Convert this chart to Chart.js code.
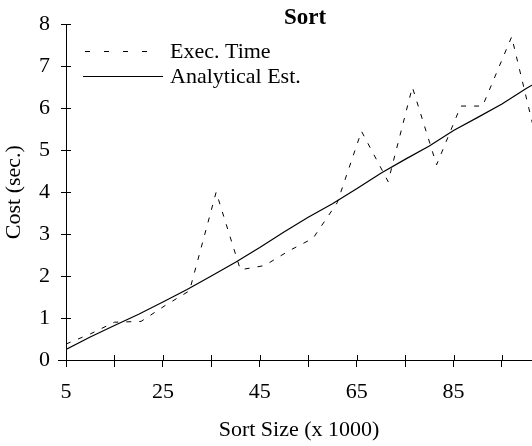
<!DOCTYPE html>
<html>
<head>
<meta charset="utf-8">
<script src="https://cdn.jsdelivr.net/npm/chart.js@4/dist/chart.umd.min.js"></script>
<style>
  html, body { margin: 0; padding: 0; background: #fff; }
</style>
</head>
<body>
<canvas id="myChart" width="532" height="446"></canvas>
<script>
// measured execution time (dashed)
const execSizes = [5, 10, 15, 20.5, 25.5, 30.5, 36, 41, 46, 51, 56, 61, 66, 71.5, 76.5, 81.5, 86.5, 91, 97, 102];
const execTimes = [0.38, 0.62, 0.9, 0.92, 1.3, 1.65, 4.0, 2.15, 2.25, 2.6, 2.9, 3.75, 5.45, 4.25, 6.5, 4.65, 6.05, 6.05, 7.7, 5.3];

// analytical estimate (solid)
const estSizes = [5, 10, 15, 20, 25, 30, 35, 40, 45, 50, 55, 60, 65, 70, 75, 80, 85, 90, 95, 100, 105];
const estTimes = [0.25, 0.55, 0.82, 1.09, 1.38, 1.68, 2.0, 2.33, 2.68, 3.05, 3.4, 3.72, 4.08, 4.45, 4.78, 5.1, 5.47, 5.78, 6.1, 6.47, 6.8];

const xTickValues = [5, 15, 25, 35, 45, 55, 65, 75, 85, 95];
const xTickLabels = ['5', '', '25', '', '45', '', '65', '', '85', ''];
const yTickValues = [0, 1, 2, 3, 4, 5, 6, 7, 8];

const seriesNames = ['Exec. Time', 'Analytical Est.'];
const chartTitle = 'Sort';

const serif = '"Liberation Serif", "Times New Roman", serif';
Chart.defaults.font.family = serif;
Chart.defaults.color = '#000';

// title, legend, inner half of the tick marks
const overlay = {
    id: 'overlay',
    afterDraw(chart) {
        const ctx = chart.ctx;
        const area = chart.chartArea;
        const xs = chart.scales.x;
        const ys = chart.scales.y;
        ctx.save();
        ctx.strokeStyle = '#000';
        ctx.lineWidth = 1;
        ctx.beginPath();
        xTickValues.forEach(v => {
            const px = Math.round(xs.getPixelForValue(v)) + 0.5;
            ctx.moveTo(px, area.bottom);
            ctx.lineTo(px, area.bottom - 5);
        });
        yTickValues.forEach(v => {
            const py = Math.round(ys.getPixelForValue(v)) + 0.5;
            ctx.moveTo(area.left, py);
            ctx.lineTo(area.left + 5, py);
        });
        // x axis runs a bit past the y axis
        ctx.moveTo(area.left - 8, Math.round(area.bottom) + 0.5);
        ctx.lineTo(area.left, Math.round(area.bottom) + 0.5);
        ctx.stroke();

        ctx.fillStyle = '#000';
        ctx.font = 'bold 23px ' + serif;
        ctx.textAlign = 'center';
        ctx.textBaseline = 'alphabetic';
        ctx.fillText(chartTitle, 305, 24);

        // legend
        ctx.setLineDash([5, 14]);
        ctx.beginPath();
        ctx.moveTo(85, 51.5);
        ctx.lineTo(150, 51.5);
        ctx.stroke();
        ctx.setLineDash([]);
        ctx.beginPath();
        ctx.moveTo(83, 76.5);
        ctx.lineTo(163, 76.5);
        ctx.stroke();
        ctx.font = '22px ' + serif;
        ctx.textAlign = 'left';
        ctx.fillText(seriesNames[0], 170, 58);
        ctx.fillText(seriesNames[1], 170, 83);
        ctx.restore();
    }
};

const ctx = document.getElementById('myChart').getContext('2d');
const chart = new Chart(ctx, {
    type: 'line',
    data: {
        datasets: [{
            label: seriesNames[0],
            data: execSizes.map((x, i) => ({ x: x, y: execTimes[i] })),
            borderColor: '#000',
            borderWidth: 1,
            borderDash: [5, 8],
            pointRadius: 0,
            tension: 0,
            fill: false
        }, {
            label: seriesNames[1],
            data: estSizes.map((x, i) => ({ x: x, y: estTimes[i] })),
            borderColor: '#000',
            borderWidth: 1.2,
            pointRadius: 0,
            tension: 0,
            fill: false
        }]
    },
    options: {
        responsive: false,
        animation: false,
        layout: { padding: { top: 18, right: 0, left: 0, bottom: 0 } },
        plugins: {
            legend: { display: false },
            title: { display: false },
            tooltip: { enabled: false }
        },
        scales: {
            x: {
                type: 'linear',
                min: 5,
                max: 101.2,
                afterBuildTicks: scale => {
                    scale.ticks = xTickValues.map(v => ({ value: v }));
                },
                afterFit: scale => { scale.height = 86; },
                ticks: {
                    autoSkip: false,
                    maxRotation: 0,
                    padding: 12,
                    font: { size: 22 },
                    callback: (value, index) => xTickLabels[index]
                },
                grid: { drawOnChartArea: false, tickLength: 7, color: '#000' },
                border: { display: true, color: '#000', width: 1 },
                title: {
                    display: true,
                    text: 'Sort Size (x 1000)',
                    font: { size: 22 },
                    padding: { top: 0, bottom: 3 }
                }
            },
            y: {
                min: 0,
                max: 8,
                afterBuildTicks: scale => {
                    scale.ticks = yTickValues.map(v => ({ value: v }));
                },
                afterFit: scale => { scale.width = 66; },
                ticks: {
                    padding: 11,
                    font: { size: 22 }
                },
                grid: { drawOnChartArea: false, tickLength: 5, color: '#000' },
                border: { display: true, color: '#000', width: 1 },
                title: {
                    display: true,
                    text: 'Cost (sec.)',
                    font: { size: 22 },
                    padding: { top: 1, bottom: 0 }
                }
            }
        }
    },
    plugins: [overlay]
});
</script>
</body>
</html>
